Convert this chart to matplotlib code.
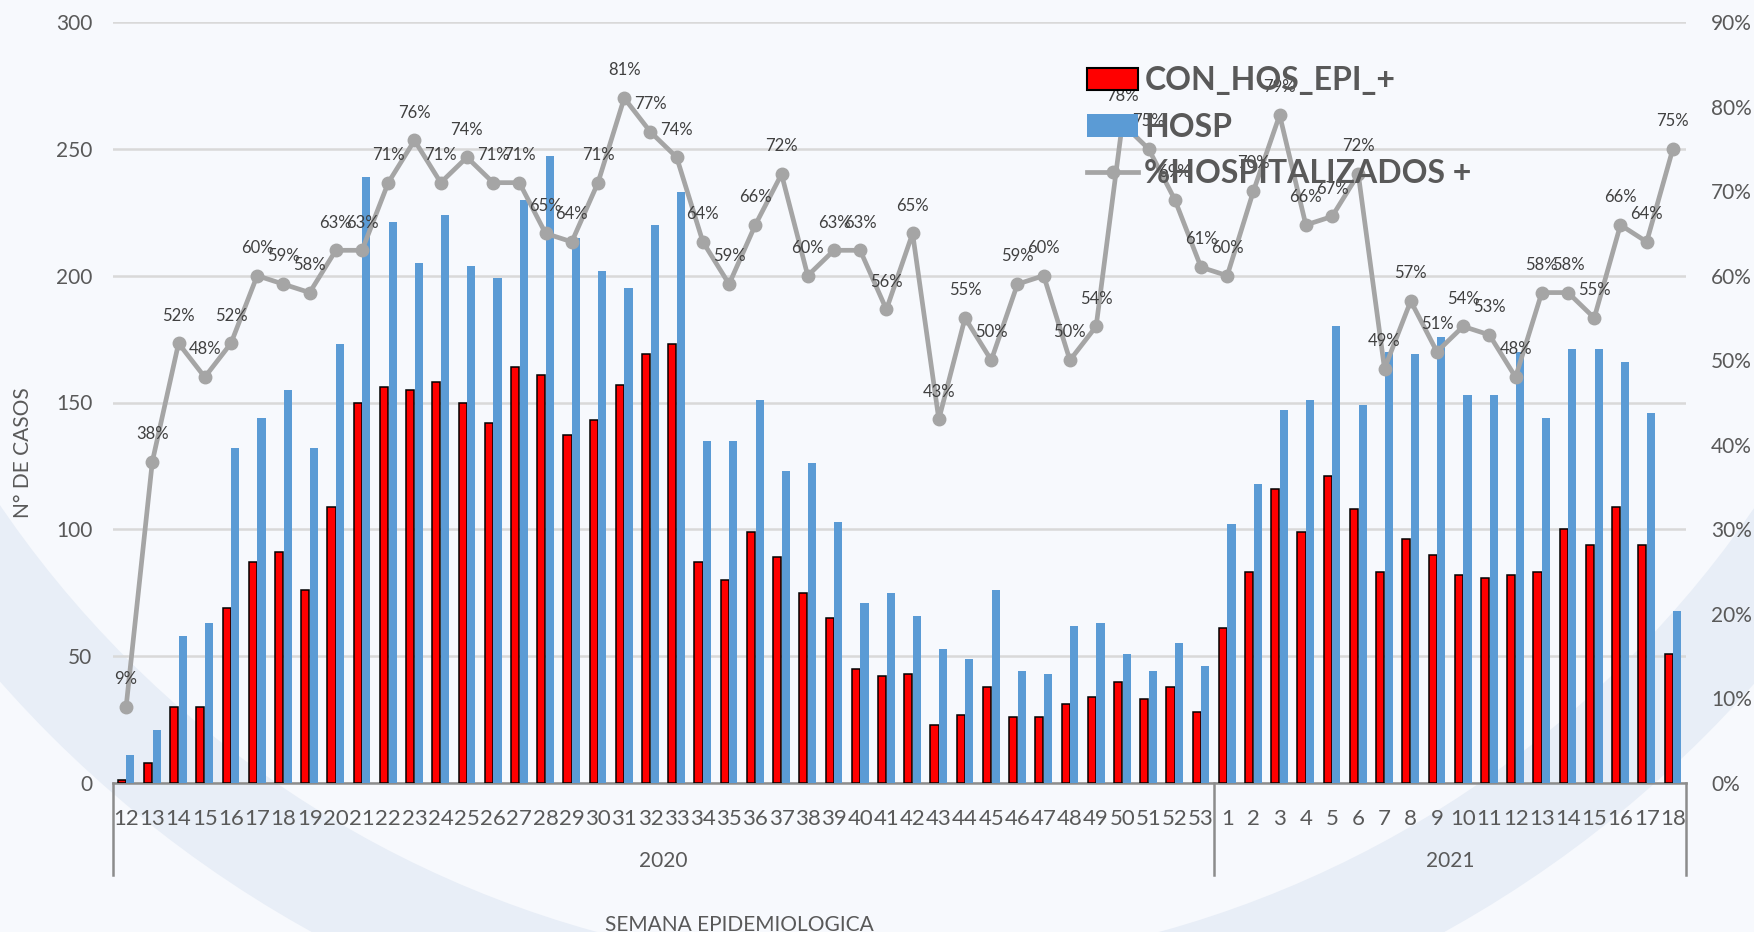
import matplotlib
matplotlib.use("Agg")
import matplotlib.pyplot as plt
import matplotlib.transforms as mtransforms
from matplotlib.lines import Line2D
from matplotlib.patches import Patch, Circle
import numpy as np

plt.rcParams["font.family"] = ["Lato", "DejaVu Sans"]

# Epidemiological weeks
weeks_2020 = list(range(12, 54))
weeks_2021 = list(range(1, 19))
week_labels = [str(w) for w in weeks_2020 + weeks_2021]
years = ["2020", "2021"]

# Hospitalised with positive epidemiological link (CON_HOS_EPI_+)
con_hos_epi = [1, 8, 30, 30, 69, 87, 91, 76, 109, 150, 156, 155, 158, 150, 142,
               164, 161, 137, 143, 157, 169, 173, 87, 80, 99, 89, 75, 65, 45, 42,
               43, 23, 27, 38, 26, 26, 31, 34, 40, 33, 38, 28,
               61, 83, 116, 99, 121, 108, 83, 96, 90, 82, 81, 82, 83, 100, 94,
               109, 94, 51]

# Total hospitalised (HOSP)
hosp = [11, 21, 58, 63, 132, 144, 155, 132, 173, 239, 221, 205, 224, 204, 199,
        230, 247, 215, 202, 195, 220, 233, 135, 135, 151, 123, 126, 103, 71, 75,
        66, 53, 49, 76, 44, 43, 62, 63, 51, 44, 55, 46,
        102, 118, 147, 151, 180, 149, 170, 169, 176, 153, 153, 170, 144, 171, 171,
        166, 146, 68]

# Share of hospitalised that are positive (%)
pct_hosp = [9, 38, 52, 48, 52, 60, 59, 58, 63, 63, 71, 76, 71, 74, 71,
            71, 65, 64, 71, 81, 77, 74, 64, 59, 66, 72, 60, 63, 63, 56,
            65, 43, 55, 50, 59, 60, 50, 54, 78, 75, 69, 61,
            60, 70, 79, 66, 67, 72, 49, 57, 51, 54, 53, 48, 58, 58, 55,
            66, 64, 75]

TEXT = "#595959"
RED = "#FF0000"
BLUE = "#5B9BD5"
GRAY = "#A5A5A5"

W, H = 1754, 932
fig = plt.figure(figsize=(W / 100, H / 100), dpi=100)
fig.patch.set_facecolor("#F7F9FD")

# Faint emblem ring in the page background
bg = fig.add_axes([0, 0, 1, 1], zorder=-5)
bg.set_xlim(0, W)
bg.set_ylim(H, 0)
bg.axis("off")
bg.add_patch(Circle((878, -92), 1116, fill=False, edgecolor="#E8EEF7",
                    linewidth=78))

left, right, top, bottom = 113, 1686, 22, 783
ax = fig.add_axes([left / W, 1 - bottom / H, (right - left) / W, (bottom - top) / H])
ax.set_facecolor("none")

x = np.arange(len(week_labels))
bw = 0.31
ax.bar(x - 0.165, con_hos_epi, width=bw, color=RED, edgecolor="black",
       linewidth=1.1, zorder=3, label="CON_HOS_EPI_+")
ax.bar(x + 0.165, hosp, width=bw, color=BLUE, linewidth=0, zorder=3, label="HOSP")

ax.set_xlim(-0.5, len(x) - 0.5)
ax.set_ylim(0, 300)
ax.set_yticks(range(0, 301, 50))
ax.yaxis.grid(True, color="#D9D9D9", linewidth=1.8, zorder=0)
ax.set_axisbelow(True)
ax.tick_params(axis="y", length=0, pad=15, labelsize=15, labelcolor=TEXT)
ax.set_xticks(x)
ax.set_xticklabels(week_labels)
ax.tick_params(axis="x", length=0, pad=19, labelsize=16, labelcolor=TEXT)
for s in ["left", "right", "top"]:
    ax.spines[s].set_visible(False)
ax.spines["bottom"].set_color("#8C8C8C")
ax.spines["bottom"].set_linewidth(1.8)
fig.text(23 / W, 1 - 453 / H, "N° DE CASOS", rotation=90, ha="center", va="center",
         fontsize=15, color=TEXT)

# Year grouping below the week labels
trans = mtransforms.blended_transform_factory(ax.transData, ax.transAxes)
sep_depth = -(875 - 783) / (bottom - top)
n2020 = len(weeks_2020)
for xs in [-0.5, n2020 - 0.5, len(x) - 0.5]:
    ax.add_line(Line2D([xs, xs], [0, sep_depth], transform=trans, color="#8C8C8C",
                       linewidth=1.8, clip_on=False))
year_y = -(861 - 783) / (bottom - top)
ax.text((n2020 - 1) / 2, year_y, years[0], transform=trans, ha="center", va="center",
        fontsize=15, color=TEXT)
ax.text(n2020 + (len(weeks_2021) - 1) / 2, year_y, years[1], transform=trans,
        ha="center", va="center", fontsize=15, color=TEXT)
fig.text(739 / W, 1 - 915 / H, "SEMANA EPIDEMIOLOGICA", ha="center", va="top",
         fontsize=15, color=TEXT)

# Percentage line on the secondary axis
ax2 = ax.twinx()
ax2.set_facecolor("none")
ax2.plot(x, pct_hosp, color=GRAY, linewidth=3.4, marker="o", markersize=9,
         zorder=4, label="%HOSPITALIZADOS +")
ax2.set_ylim(0, 90)
ax2.set_yticks(range(0, 91, 10))
ax2.set_yticklabels([f"{v}%" for v in range(0, 91, 10)])
ax2.tick_params(axis="y", length=0, pad=18, labelsize=15, labelcolor=TEXT)
for s in ["left", "right", "top", "bottom"]:
    ax2.spines[s].set_visible(False)
for xi, p in zip(x, pct_hosp):
    ax2.annotate(f"{p}%", (xi, p), xytext=(0, 20), textcoords="offset points",
                 ha="center", va="center", fontsize=12, color="#404040", zorder=5)

handles = [
    Patch(facecolor=RED, edgecolor="black", linewidth=1.5),
    Patch(facecolor=BLUE, edgecolor="none"),
    Line2D([], [], color=GRAY, linewidth=3.4, marker="o", markersize=9),
]
leg = fig.legend(handles, ["CON_HOS_EPI_+", "HOSP", "%HOSPITALIZADOS +"],
                 loc="upper left", bbox_to_anchor=(1087 / W, 1 - 66 / H),
                 frameon=False, prop={"weight": "bold", "size": 23},
                 labelcolor=TEXT, handlelength=1.6, handleheight=0.7,
                 handletextpad=0.2, labelspacing=0.55, borderpad=0, borderaxespad=0)
leg.set_zorder(10)

fig.savefig("out.png", dpi=100, facecolor=fig.get_facecolor())
